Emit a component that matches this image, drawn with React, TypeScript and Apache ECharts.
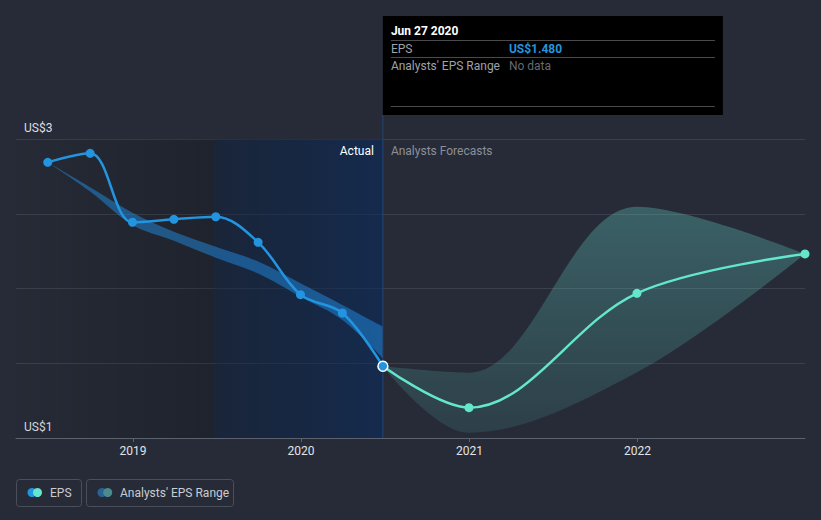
import React, { useEffect, useRef } from "react";
import * as echarts from "echarts";

// ---- data ----
const actualDates = [
  "2018-06-30", "2018-09-30", "2018-12-31", "2019-03-31", "2019-06-30",
  "2019-09-30", "2019-12-31", "2020-03-31", "2020-06-27",
];
const actualEps = [2.844, 2.904, 2.443, 2.463, 2.48, 2.309, 1.959, 1.836, 1.48];
const pastRangeLow = [2.844, 2.648, 2.425, 2.32, 2.206, 2.1, 1.945, 1.79, 1.533];
const pastRangeHigh = [2.844, 2.677, 2.507, 2.38, 2.28, 2.18, 2.035, 1.89, 1.745];

const forecastDates = ["2020-06-27", "2020-12-31", "2021-12-31", "2022-12-31"];
const forecastEps = [1.48, 1.203, 1.968, 2.231];
const forecastLow = [1.48, 1.035, 1.44, 2.231];
const forecastHigh = [1.48, 1.437, 2.547, 2.231];

const yearTicks = ["2019-01-01", "2020-01-01", "2021-01-01", "2022-01-01"];
const yTickLabels: Record<number, string> = { 1: "US$1", 3: "US$3" };
const axisMinDate = "2018-04-22";
const axisMaxDate = "2022-12-31";
const pastShadeStart = "2019-06-27";
const currentDate = "2020-06-27";
const tooltipTitle = "Jun 27 2020";
const tooltipEps = "US$1.480";
const seriesNames = ["EPS", "Analysts' EPS Range"];

const t = (s: string) => new Date(s + "T00:00:00").getTime();

const BG = "#262b37";
const BLUE = "#2394df";
const TEAL = "#64e6cd";
const FONT = "Roboto";

export default function App() {
  const ref = useRef<HTMLDivElement>(null);

  useEffect(() => {
    if (!ref.current) return;
    const chart = echarts.init(ref.current, undefined, { renderer: "svg" });

    const pastLowData = actualDates.map((d, i) => [t(d), pastRangeLow[i]]);
    const pastDiffData = actualDates.map((d, i) => [t(d), +(pastRangeHigh[i] - pastRangeLow[i]).toFixed(4)]);
    const fcLowData = forecastDates.map((d, i) => [t(d), forecastLow[i]]);
    const fcDiffData = forecastDates.map((d, i) => [t(d), +(forecastHigh[i] - forecastLow[i]).toFixed(4)]);
    const fcLineData = forecastDates.map((d, i) =>
      i === 0 ? { value: [t(d), forecastEps[i]], symbol: "none" } : { value: [t(d), forecastEps[i]] }
    );
    const actualData = actualDates.map((d, i) =>
      i === actualDates.length - 1
        ? { value: [t(d), actualEps[i]], itemStyle: { borderColor: "#ffffff", borderWidth: 1.5 }, symbolSize: 10 }
        : { value: [t(d), actualEps[i]] }
    );

    const bandBase = {
      type: "line",
      xAxisIndex: 1,
      smooth: 0.35,
      symbol: "none",
      silent: true,
      lineStyle: { width: 0, opacity: 0 },
    };

    const option: any = {
      animation: false,
      backgroundColor: BG,
      grid: { left: 16, right: 16, top: 139, bottom: 82, containLabel: false },
      xAxis: [
        {
          type: "value",
          min: t(axisMinDate),
          max: t(axisMaxDate),
          axisLine: { lineStyle: { color: "#5c626d", width: 1 } },
          axisTick: { show: true, length: 4, lineStyle: { color: "#5c626d" }, customValues: yearTicks.map(t) },
          axisLabel: {
            color: "#e2e4e8",
            fontSize: 12,
            fontFamily: FONT,
            margin: 7,
            customValues: yearTicks.map(t),
            formatter: (v: number) => String(new Date(v).getFullYear()),
          },
          splitLine: { show: false },
        },
        {
          type: "time",
          show: false,
          min: t(axisMinDate),
          max: t(axisMaxDate),
        },
      ],
      yAxis: {
        type: "value",
        min: 1,
        max: 3,
        interval: 0.5,
        axisLine: { show: false },
        axisTick: { show: false },
        splitLine: { lineStyle: { color: "#3b414c", width: 1 } },
        axisLabel: {
          inside: true,
          margin: 8,
          color: "#dcdee2",
          fontSize: 12,
          fontFamily: FONT,
          verticalAlign: "bottom",
          padding: [0, 0, 5, 0],
          formatter: (v: number) => yTickLabels[v] || "",
        },
      },
      series: [
        {
          name: "shade",
          type: "line",
          z: 1,
          symbol: "none",
          silent: true,
          lineStyle: { width: 0, opacity: 0 },
          data: [[t(currentDate), actualEps[actualEps.length - 1]]],
          markArea: {
            silent: true,
            data: [
              [
                {
                  xAxis: t(axisMinDate),
                  itemStyle: {
                    color: new echarts.graphic.LinearGradient(0, 0, 1, 0, [
                      { offset: 0, color: "rgba(0,0,0,0.02)" },
                      { offset: 1, color: "rgba(0,0,0,0.19)" },
                    ]),
                  },
                },
                { xAxis: t(pastShadeStart) },
              ],
              [
                {
                  xAxis: t(pastShadeStart),
                  itemStyle: {
                    color: new echarts.graphic.LinearGradient(0, 0, 1, 0, [
                      { offset: 0, color: "rgba(10,30,60,0.45)" },
                      { offset: 1, color: "rgba(10,42,92,0.62)" },
                    ]),
                  },
                },
                { xAxis: t(currentDate) },
              ],
            ],
          },
        },
        { ...bandBase, name: "pastLow", z: 2, stack: "past", data: pastLowData },
        {
          ...bandBase,
          name: seriesNames[1] + " past",
          z: 2,
          stack: "past",
          areaStyle: { color: "rgba(33,150,243,0.45)", opacity: 1 },
          data: pastDiffData,
        },
        { ...bandBase, name: "fcLow", z: 2, stack: "fc", data: fcLowData },
        {
          ...bandBase,
          name: seriesNames[1],
          z: 2,
          stack: "fc",
          areaStyle: {
            opacity: 1,
            color: new echarts.graphic.LinearGradient(0, 0, 0, 1, [
              { offset: 0, color: "rgba(100,210,200,0.32)" },
              { offset: 1, color: "rgba(100,210,200,0.12)" },
            ]),
          },
          data: fcDiffData,
        },
        {
          name: seriesNames[0] + " forecast",
          type: "line",
          z: 4,
          smooth: 0.35,
          symbol: "circle",
          symbolSize: 9,
          itemStyle: { color: TEAL },
          lineStyle: { color: TEAL, width: 2.5 },
          data: fcLineData,
        },
        {
          name: seriesNames[0],
          type: "line",
          z: 5,
          smooth: 0.35,
          symbol: "circle",
          symbolSize: 9,
          itemStyle: { color: BLUE },
          lineStyle: { color: BLUE, width: 2.5 },
          data: actualData,
        },
      ],
    };

    chart.setOption(option);

    const px = chart.convertToPixel({ xAxisIndex: 0 }, t(currentDate)) as number;
    const gridBottom = chart.convertToPixel({ yAxisIndex: 0 }, 1) as number;
    const gridTop = chart.convertToPixel({ yAxisIndex: 0 }, 3) as number;

    const tipTop = 16;
    const tipH = 99;
    const tipW = 340;
    const textX = px + 8;
    const valX = px + 126;
    const sepW = tipW - 16;

    const graphic: any[] = [
      {
        type: "line",
        z: 3,
        silent: true,
        shape: { x1: px, y1: tipTop + tipH, x2: px, y2: gridBottom },
        style: { stroke: "#264676", lineWidth: 1 },
      },
      {
        type: "text",
        z: 10,
        style: { text: "Actual", x: px - 9, y: gridTop + 12, align: "right", verticalAlign: "middle", fill: "#ffffff", font: `12px ${FONT}` },
      },
      {
        type: "text",
        z: 10,
        style: { text: "Analysts Forecasts", x: px + 8, y: gridTop + 12, align: "left", verticalAlign: "middle", fill: "#8b9099", font: `12px ${FONT}` },
      },
      { type: "rect", z: 20, shape: { x: px, y: tipTop, width: tipW, height: tipH }, style: { fill: "#000000" } },
      { type: "text", z: 21, style: { text: tooltipTitle, x: textX, y: 31, verticalAlign: "middle", fill: "#ffffff", font: `bold 12px ${FONT}` } },
      { type: "line", z: 21, shape: { x1: textX, y1: 40.5, x2: textX + sepW, y2: 40.5 }, style: { stroke: "#4a4a4a", lineWidth: 1 } },
      { type: "text", z: 21, style: { text: seriesNames[0], x: textX, y: 48.5, verticalAlign: "middle", fill: "#9ea2a9", font: `12px ${FONT}` } },
      { type: "text", z: 21, style: { text: tooltipEps, x: valX, y: 48.5, verticalAlign: "middle", fill: BLUE, font: `bold 12px ${FONT}` } },
      { type: "line", z: 21, shape: { x1: textX, y1: 57.5, x2: textX + sepW, y2: 57.5 }, style: { stroke: "#4a4a4a", lineWidth: 1 } },
      { type: "text", z: 21, style: { text: seriesNames[1], x: textX, y: 65.5, verticalAlign: "middle", fill: "#9ea2a9", font: `12px ${FONT}` } },
      { type: "text", z: 21, style: { text: "No data", x: valX, y: 65.5, verticalAlign: "middle", fill: "#666a70", font: `12px ${FONT}` } },
      { type: "line", z: 21, shape: { x1: textX, y1: 106.5, x2: textX + sepW, y2: 106.5 }, style: { stroke: "#4a4a4a", lineWidth: 1 } },
      { type: "rect", z: 10, shape: { x: 16.5, y: 479.5, width: 65, height: 27, r: 3 }, style: { fill: "none", stroke: "#4a505b", lineWidth: 1 } },
      { type: "circle", z: 10, shape: { cx: 32, cy: 492.5, r: 4.5 }, style: { fill: BLUE } },
      { type: "circle", z: 11, shape: { cx: 37.5, cy: 492.5, r: 4.5 }, style: { fill: TEAL } },
      { type: "text", z: 10, style: { text: seriesNames[0], x: 50, y: 493, verticalAlign: "middle", fill: "#c9ccd1", font: `12px ${FONT}` } },
      { type: "rect", z: 10, shape: { x: 86.5, y: 479.5, width: 147, height: 27, r: 3 }, style: { fill: "none", stroke: "#4a505b", lineWidth: 1 } },
      { type: "circle", z: 10, shape: { cx: 102, cy: 492.5, r: 4.5 }, style: { fill: "#2a6294" } },
      { type: "circle", z: 11, shape: { cx: 107.7, cy: 492.5, r: 4.5 }, style: { fill: "#4a8b8b" } },
      { type: "text", z: 10, style: { text: seriesNames[1], x: 120, y: 493, verticalAlign: "middle", fill: "#c9ccd1", font: `12px ${FONT}` } },
    ];

    chart.setOption({ graphic });

    return () => chart.dispose();
  }, []);

  return (
    <div
      ref={ref}
      style={{ position: "fixed", left: 0, top: 0, width: 821, height: 520, background: BG }}
    />
  );
}
